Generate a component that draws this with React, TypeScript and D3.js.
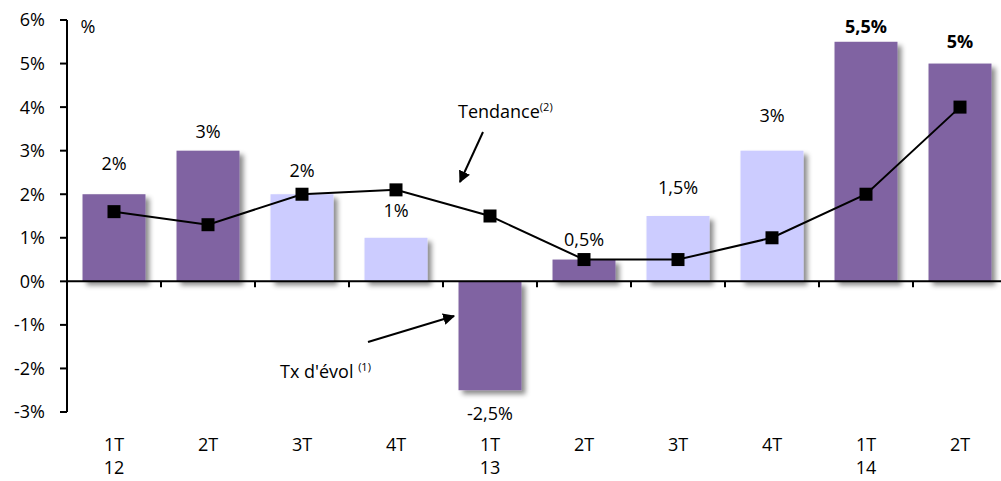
import * as d3 from "d3";

const quarters = ["1T", "2T", "3T", "4T", "1T", "2T", "3T", "4T", "1T", "2T"];
const years = ["12", "", "", "", "13", "", "", "", "14", ""];
const evolution = [2, 3, 2, 1, -2.5, 0.5, 1.5, 3, 5.5, 5];
const evolutionLabels = ["2%", "3%", "2%", "1%", "-2,5%", "0,5%", "1,5%", "3%", "5,5%", "5%"];
const boldLabel = [false, false, false, false, false, false, false, false, true, true];
const darkBar = [true, true, false, false, true, true, false, false, true, true];
const tendance = [1.6, 1.3, 2.0, 2.1, 1.5, 0.5, 0.5, 1.0, 2.0, 4.0];
const yTicks = [-3, -2, -1, 0, 1, 2, 3, 4, 5, 6];

// manual nudges of the value labels (px from bar end), like the original
const labelNudge = [-31, -19, -24, -27, 23, -20, -28, -35, -15, -22];

const width = 1001;
const height = 481;
const left = 67;
const font = "'Open Sans', sans-serif";
const fs = 18;

export default function App() {
  const x = d3.scaleBand<number>().domain(d3.range(quarters.length)).range([left, 1007]).paddingInner(0.33).paddingOuter(0.165);
  const y = d3.scaleLinear().domain([-3, 6]).range([412, 20]);
  const cx = (i: number) => (x(i) ?? 0) + x.bandwidth() / 2;
  const step = x.step();
  const line = d3.line<number>().x((_, i) => cx(i)).y((d) => y(d));

  return (
    <svg width={width} height={height} style={{ position: "absolute", left: 0, top: 0, fontFamily: font }}>
      <defs>
        <filter id="shadow" x="-20%" y="-20%" width="150%" height="150%">
          <feDropShadow dx="4" dy="4" stdDeviation="2.5" floodColor="#000" floodOpacity="0.45" />
        </filter>
        <marker id="arrow" viewBox="0 0 10 10" refX="9" refY="5" markerWidth="6" markerHeight="6" orient="auto-start-reverse">
          <path d="M0,0 L10,5 L0,10 z" fill="#000" />
        </marker>
      </defs>

      {/* bars */}
      <g filter="url(#shadow)">
        {evolution.map((v, i) => (
          <rect key={i} x={x(i)} width={x.bandwidth()} y={y(Math.max(0, v))} height={Math.abs(y(v) - y(0))}
            fill={darkBar[i] ? "#8064A2" : "#CCCCFF"} />
        ))}
      </g>

      {/* y axis */}
      <line x1={left} x2={left} y1={y(6)} y2={y(-3)} stroke="#000" strokeWidth={2} />
      {yTicks.map((t) => (
        <g key={t}>
          <line x1={left - 7} x2={left} y1={y(t)} y2={y(t)} stroke="#000" strokeWidth={2} />
          <text x={left - 22} y={y(t)} dy="0.36em" textAnchor="end" fontSize={fs}>{t}%</text>
        </g>
      ))}
      <text x={88} y={y(6)} dy="0.7em" textAnchor="middle" fontSize={fs}>%</text>

      {/* zero axis */}
      <line x1={left} x2={left + step * quarters.length} y1={y(0)} y2={y(0)} stroke="#000" strokeWidth={2} />
      {quarters.map((_, i) => (
        <line key={i} x1={left + step * (i + 1)} x2={left + step * (i + 1)} y1={y(0)} y2={y(0) + 6} stroke="#000" strokeWidth={2} />
      ))}

      {/* category labels */}
      {quarters.map((q, i) => (
        <g key={i}>
          <text x={cx(i)} y={445} dy="0.36em" textAnchor="middle" fontSize={fs}>{q}</text>
          {years[i] && <text x={cx(i)} y={468} dy="0.36em" textAnchor="middle" fontSize={fs}>{years[i]}</text>}
        </g>
      ))}

      {/* value labels */}
      {evolution.map((v, i) => (
        <text key={i} x={cx(i)} y={y(v) + labelNudge[i]} dy="0.36em" textAnchor="middle" fontSize={fs}
          fontWeight={boldLabel[i] ? "bold" : "normal"}>{evolutionLabels[i]}</text>
      ))}

      {/* trend line */}
      <path d={line(tendance) ?? ""} fill="none" stroke="#000" strokeWidth={2} />
      {tendance.map((v, i) => (
        <rect key={i} x={cx(i) - 6.5} y={y(v) - 6.5} width={13} height={13} fill="#000" />
      ))}

      {/* annotations */}
      <text x={458} y={112} dy="0.36em" fontSize={fs}>
        Tendance<tspan fontSize={11} dy="-0.7em">(2)</tspan>
      </text>
      <line x1={483} y1={132} x2={460} y2={182} stroke="#000" strokeWidth={2} markerEnd="url(#arrow)" />

      <text x={280} y={372} dy="0.36em" fontSize={fs}>
        Tx d'évol <tspan fontSize={11} dy="-0.7em">(1)</tspan>
      </text>
      <line x1={368} y1={342} x2={454} y2={316} stroke="#000" strokeWidth={2} markerEnd="url(#arrow)" />
    </svg>
  );
}
